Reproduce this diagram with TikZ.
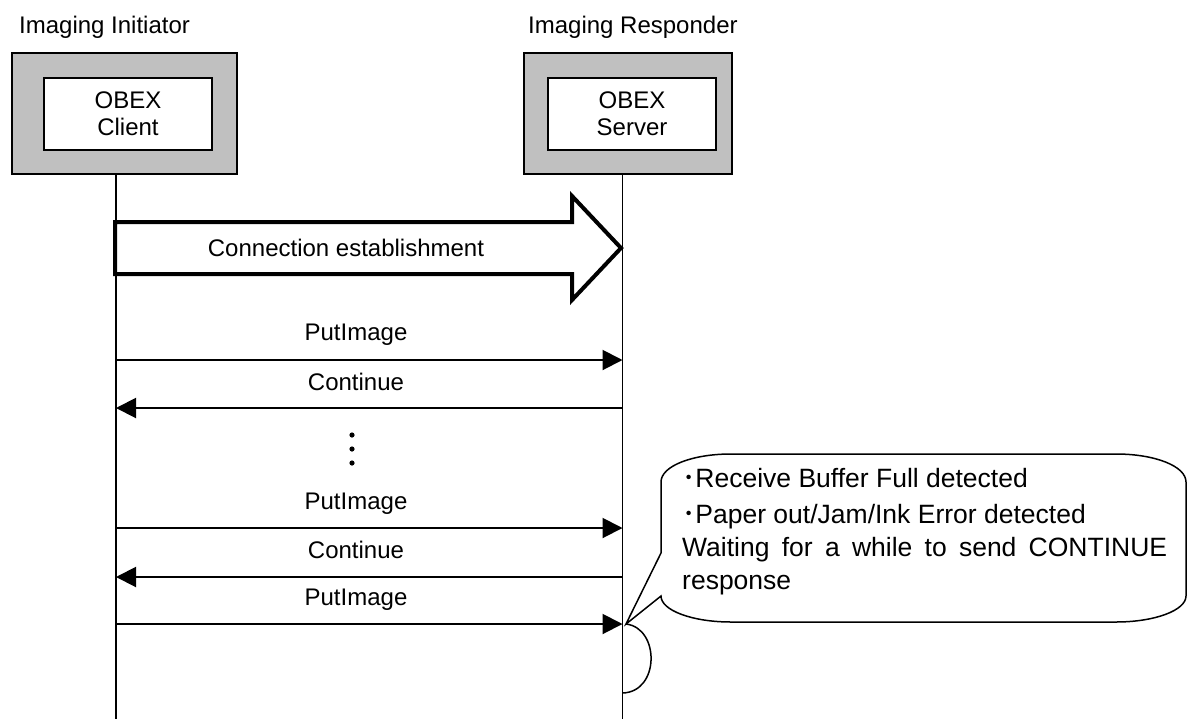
\documentclass[tikz,border=0pt]{standalone}
\usepackage{fontspec}
\setmainfont{Liberation Sans}
\newfontfamily\cjk{Noto Sans CJK JP}
\usetikzlibrary{arrows.meta}
\definecolor{boxgray}{RGB}{192,192,192}
\newcommand{\mainsz}{\fontsize{24}{27}\selectfont}
\newcommand{\notesz}{\fontsize{26.5}{30}\selectfont}
\begin{document}
\begin{tikzpicture}[x=1pt,y=-1pt,
  outerbox/.style={draw, line width=2pt, fill=boxgray, minimum height=121pt, inner sep=0pt},
  innerbox/.style={draw, line width=2pt, fill=white, minimum width=168pt, minimum height=72pt, inner sep=0pt, align=center, font=\mainsz},
  lifeline/.style={line width=1.5pt},
  msg/.style={line width=2pt, -{Triangle[length=20pt,width=20pt]}},
  lbl/.style={font=\mainsz, anchor=base, inner sep=0pt},
  notetext/.style={font=\notesz, anchor=base west, inner sep=0pt},
  bigarrow/.style={line width=4pt, line join=miter, fill=white},
  callout/.style={line width=1.5pt, line join=miter}]
\useasboundingbox (0,0) rectangle (1187,721);
\fill[white] (0,0) rectangle (1187,721);

% headers
\node[lbl, anchor=base west] (initl) at (19,33) {Imaging Initiator};
\node[lbl, anchor=base west] (respl) at (528,33) {Imaging Responder};

% boxes
\node[outerbox, minimum width=225pt] (iniouter) at (124.5,113.5) {};
\node[innerbox] (client) at (128,114) {OBEX\\Client};
\node[outerbox, minimum width=208pt] (resouter) at (628,113.5) {};
\node[innerbox] (server) at (632,114) {OBEX\\Server};

% lifelines
\coordinate (iniend) at (116,719);
\coordinate (resend) at (622.5,719);
\draw[lifeline] (iniouter.south -| iniend) -- (iniend);
\draw[lifeline] (resouter.south -| resend) -- (resend);

% connection establishment arrow
\draw[bigarrow] (115,222) -- (572,222) -- (572,196) -- (621,248) -- (572,300) -- (572,274) -- (115,274) -- cycle;
\node[lbl] (conn) at (346,256) {Connection establishment};

% messages
\coordinate (m1a) at (116,360);   \coordinate (m1b) at (622.5,360);
\coordinate (m2a) at (116,408);   \coordinate (m2b) at (622.5,408);
\coordinate (m3a) at (116,528);   \coordinate (m3b) at (622.5,528);
\coordinate (m4a) at (116,577);   \coordinate (m4b) at (622.5,577);
\coordinate (m5a) at (116,624);   \coordinate (m5b) at (622.5,624);
\draw[msg] (m1a) -- (m1b);
\draw[msg] (m2b) -- (m2a);
\draw[msg] (m3a) -- (m3b);
\draw[msg] (m4b) -- (m4a);
\draw[msg] (m5a) -- (m5b);
\node[lbl] (l1) at (356,340) {PutImage};
\node[lbl] (l2) at (356,390) {Continue};
\node[lbl] (l3) at (356,509) {PutImage};
\node[lbl] (l4) at (356,558) {Continue};
\node[lbl] (l5) at (356,605) {PutImage};

% dots
\fill (352,435) circle[radius=2.6pt];
\fill (352,449) circle[radius=2.6pt];
\fill (352,463) circle[radius=2.6pt];

% callout
\coordinate (tip) at (626,624);
\draw[callout, fill=white] (661,553) -- (661,482)
  .. controls (661,466) and (692.3,454) .. (731,454)
  -- (1116,454)
  .. controls (1154.6,454) and (1186,466) .. (1186,482)
  -- (1186,596)
  .. controls (1186,610.4) and (1154.6,622) .. (1116,622)
  -- (731,622)
  .. controls (692.3,622) and (661,610.4) .. (661,596)
  -- (tip) -- cycle;
\coordinate (arcend) at (622.5,693);
\draw[callout] (tip) .. controls (660,628) and (660,692) .. (arcend);

\node[notetext] (n1) at (682,487) {{\cjk ･}Receive Buffer Full detected};
\node[notetext] (n2) at (682,523) {{\cjk ･}Paper out/Jam/Ink Error detected};
\node[notetext] (n3) at (682,556) {\makebox[485pt][s]{Waiting for a while to send CONTINUE}};
\node[notetext] (n4) at (682,589) {response};
\end{tikzpicture}
\end{document}
